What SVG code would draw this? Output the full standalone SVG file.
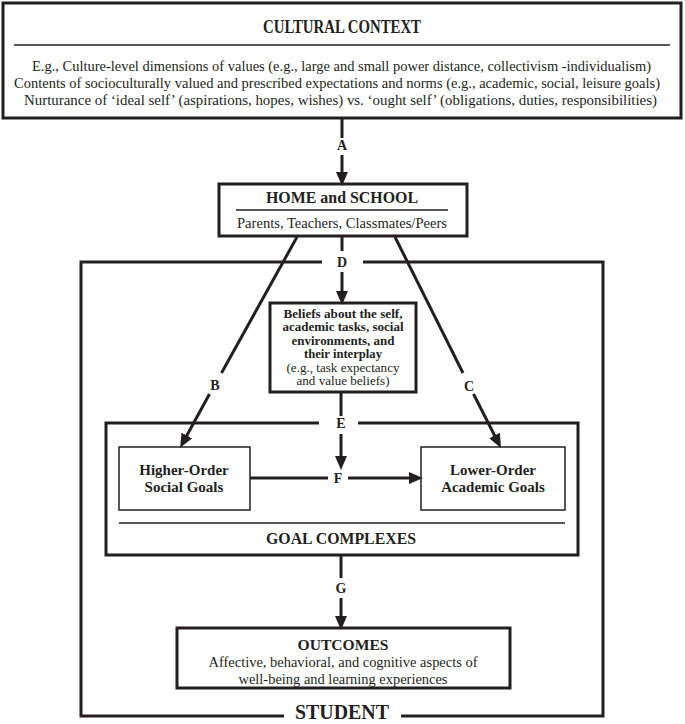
<svg xmlns="http://www.w3.org/2000/svg" width="685" height="724" viewBox="0 0 685 724">
<style>
.box{fill:#fff;stroke:#231f20;stroke-width:3}
.thin{fill:#fff;stroke:#231f20;stroke-width:1.5}
.sep{stroke:#231f20;stroke-width:1.5}
.edge{stroke:#231f20;stroke-width:3;fill:none}
text{font-family:"Liberation Serif","Times New Roman",serif;fill:#231f20;text-anchor:middle}
.st{text-anchor:start}
.b{font-weight:bold}
.t16{font-size:16px}
.t15{font-size:15px}
.t14{font-size:14.5px}
.t12{font-size:12px}
.lab{font-size:14px;font-weight:bold}
</style>
<defs>
<marker id="ah" markerUnits="userSpaceOnUse" markerWidth="14" markerHeight="12" viewBox="0 0 14 12" refX="4" refY="6" orient="auto">
<path d="M0,0 L14,6 L0,12 z" fill="#231f20"/>
</marker>
</defs>
<rect width="685" height="724" fill="#fff"/>

<g id="student">
<path class="edge" d="M322,262 H81 V716 H284 M401,716 H603 V262 H363" stroke-width="2.5"/>
<text class="b" x="342" y="719" font-size="21" textLength="94" lengthAdjust="spacingAndGlyphs">STUDENT</text>
</g>

<g id="cultural-context">
<rect class="box" x="3" y="3" width="678" height="115"/>
<text class="b" x="342" y="33" font-size="18" textLength="158" lengthAdjust="spacingAndGlyphs">CULTURAL CONTEXT</text>
<line class="sep" x1="14" y1="45" x2="670" y2="45"/>
<text class="st" x="32" y="71" font-size="15" textLength="619" lengthAdjust="spacingAndGlyphs">E.g., Culture-level dimensions of values (e.g., large and small power distance, collectivism -individualism)</text>
<text class="st" x="14" y="88" font-size="15" textLength="646" lengthAdjust="spacingAndGlyphs">Contents of socioculturally valued and prescribed expectations and norms (e.g., academic, social, leisure goals)</text>
<text class="st" x="24" y="105" font-size="15" textLength="633" lengthAdjust="spacingAndGlyphs">Nurturance of ‘ideal self’ (aspirations, hopes, wishes) vs.  ‘ought self’ (obligations, duties, responsibilities)</text>
</g>

<g id="home-school">
<rect class="box" x="219" y="184" width="248" height="52"/>
<text class="b t16" x="342" y="203" textLength="152" lengthAdjust="spacingAndGlyphs">HOME and SCHOOL</text>
<line class="sep" x1="236" y1="210" x2="448" y2="210"/>
<text class="t14" x="342" y="228" textLength="210" lengthAdjust="spacingAndGlyphs">Parents, Teachers, Classmates/Peers</text>
</g>

<g id="beliefs">
<rect class="box" x="270" y="303" width="146" height="89"/>
<text class="b t12" x="343" y="318" textLength="119" lengthAdjust="spacingAndGlyphs">Beliefs about the self,</text>
<text class="b t12" x="343" y="331.4" textLength="121" lengthAdjust="spacingAndGlyphs">academic tasks, social</text>
<text class="b t12" x="343" y="344.8" textLength="103" lengthAdjust="spacingAndGlyphs">environments, and</text>
<text class="b t12" x="343" y="358.2" textLength="78" lengthAdjust="spacingAndGlyphs">their interplay</text>
<text class="t12" x="343" y="371.6" textLength="113" lengthAdjust="spacingAndGlyphs">(e.g., task expectancy</text>
<text class="t12" x="343" y="385" textLength="93" lengthAdjust="spacingAndGlyphs">and value beliefs)</text>
</g>

<g id="goal-complexes">
<path class="edge" d="M319,423 H106 V555 H578 V423 H358"/>
<line class="sep" x1="119" y1="523" x2="565" y2="523"/>
<text class="b t16" x="341" y="544" textLength="150" lengthAdjust="spacingAndGlyphs">GOAL COMPLEXES</text>
</g>

<g id="higher-order">
<rect class="thin" x="119" y="447" width="131" height="63"/>
<text class="b t15" x="184" y="475">Higher-Order</text>
<text class="b t15" x="184" y="492">Social Goals</text>
</g>

<g id="lower-order">
<rect class="thin" x="421" y="447" width="144" height="63"/>
<text class="b t15" x="493" y="475">Lower-Order</text>
<text class="b t15" x="493" y="492">Academic Goals</text>
</g>

<g id="outcomes">
<rect class="box" x="177" y="628" width="333" height="60"/>
<text class="b t15" x="343" y="650" textLength="91" lengthAdjust="spacingAndGlyphs">OUTCOMES</text>
<text class="t14" x="343" y="667" textLength="269" lengthAdjust="spacingAndGlyphs">Affective, behavioral, and cognitive aspects of</text>
<text class="t14" x="343" y="684" textLength="209" lengthAdjust="spacingAndGlyphs">well-being and learning experiences</text>
</g>

<g id="connectors">
<line class="edge" x1="342" y1="118" x2="342" y2="138"/>
<line class="edge" x1="342" y1="155" x2="342" y2="176" marker-end="url(#ah)"/>
<text class="lab" x="342" y="150">A</text>

<line class="edge" x1="342" y1="236" x2="342" y2="251"/>
<line class="edge" x1="342" y1="272" x2="342" y2="295" marker-end="url(#ah)"/>
<text class="lab" x="342" y="267">D</text>

<line class="edge" x1="297" y1="237" x2="221.5" y2="373"/>
<line class="edge" x1="209.5" y1="394" x2="184.9" y2="439" marker-end="url(#ah)"/>
<text class="lab" x="215" y="390">B</text>

<line class="edge" x1="395" y1="237" x2="463" y2="373"/>
<line class="edge" x1="473.5" y1="394" x2="496.4" y2="439" marker-end="url(#ah)"/>
<text class="lab" x="469" y="391">C</text>

<line class="edge" x1="341" y1="392" x2="341" y2="416"/>
<line class="edge" x1="341" y1="434" x2="341" y2="460" marker-end="url(#ah)"/>
<text class="lab" x="341" y="428">E</text>

<line class="edge" x1="250" y1="478" x2="328" y2="478"/>
<line class="edge" x1="348" y1="478" x2="413" y2="478" marker-end="url(#ah)"/>
<text class="lab" x="338" y="483">F</text>

<line class="edge" x1="341" y1="555" x2="341" y2="578"/>
<line class="edge" x1="341" y1="598" x2="341" y2="620" marker-end="url(#ah)"/>
<text class="lab" x="341" y="593">G</text>
</g>
</svg>
